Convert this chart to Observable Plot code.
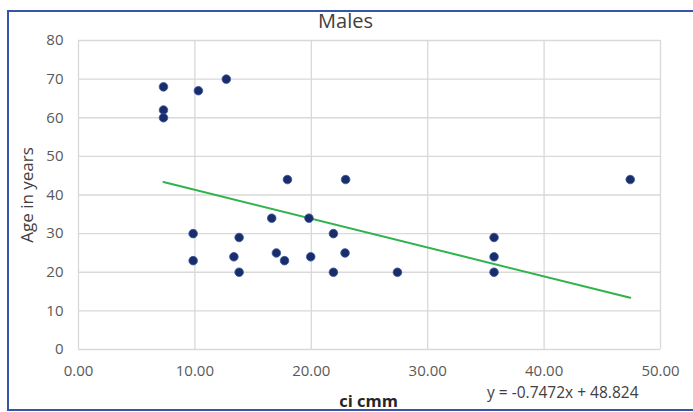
<!DOCTYPE html>
<html>
<head>
<meta charset="utf-8">
<script src="https://cdn.jsdelivr.net/npm/d3@7"></script>
<script src="https://cdn.jsdelivr.net/npm/@observablehq/plot@0.6"></script>
<style>
  html, body { margin: 0; padding: 0; background: #fff; }
  #wrap { position: relative; width: 693px; height: 412px; overflow: hidden; font-family: "Open Sans", Calibri, "Liberation Sans", sans-serif; }
  #frame { position: absolute; left: 7px; top: 10px; width: 700px; height: 401px; border: 2px solid #3556a8; box-sizing: border-box; }
  #wrap svg { position: absolute; left: 0; top: 0; }
</style>
</head>
<body>
<div id="wrap"><div id="frame"></div></div>
<script>
// Data
const ciCmm = [7.3, 7.3, 7.3, 10.3, 12.7, 9.85, 9.85, 13.35, 13.8, 13.8, 16.6, 17.0, 17.7, 17.95, 19.8, 19.95, 21.9, 21.9, 22.9, 22.95, 27.4, 35.7, 35.7, 35.7, 47.4];
const ageYears = [68, 62, 60, 67, 70, 30, 23, 24, 29, 20, 34, 25, 23, 44, 34, 24, 30, 20, 25, 44, 20, 29, 24, 20, 44];
const trendSlope = -0.7472;
const trendIntercept = 48.824;
const xTicks = [0, 10, 20, 30, 40, 50];
const yTicks = [0, 10, 20, 30, 40, 50, 60, 70, 80];
const titleText = "Males";
const xLabel = "ci cmm";
const yLabel = "Age in years";
const equationText = "y = -0.7472x + 48.824";

const points = ciCmm.map((x, i) => ({x, y: ageYears[i]}));
const xMin = d3.min(ciCmm), xMax = d3.max(ciCmm);
const trend = [xMin, xMax].map(x => ({x, y: trendSlope * x + trendIntercept}));

const W = 693, H = 412;
const chart = Plot.plot({
  width: W,
  height: H,
  marginLeft: 78,
  marginRight: 33,
  marginTop: 40,
  marginBottom: 63,
  style: {fontFamily: '"Open Sans", Calibri, "Liberation Sans", sans-serif', background: "transparent", overflow: "visible"},
  x: {domain: [0, 50], ticks: xTicks, tickFormat: d => d.toFixed(2), label: null},
  y: {domain: [0, 80], ticks: yTicks, label: null},
  marks: [
    Plot.gridX(xTicks, {stroke: "#d9d9d9", strokeOpacity: 1, strokeWidth: 1.3}),
    Plot.gridY(yTicks, {stroke: "#d9d9d9", strokeOpacity: 1, strokeWidth: 1.3}),
    Plot.axisX({ticks: xTicks, tickSize: 0, tickPadding: 16, tickFormat: d => d.toFixed(2), fontSize: 15, fill: "#595959", label: null}),
    Plot.axisY({ticks: yTicks, tickSize: 0, tickPadding: 15, fontSize: 15, fill: "#595959", label: null}),
    Plot.line(trend, {x: "x", y: "y", stroke: "#2fb34a", strokeWidth: 2}),
    Plot.dot(points, {x: "x", y: "y", r: 4.3, fill: "#1a2d6b", stroke: "#3a55a0", strokeWidth: 0.8}),
    Plot.text([titleText], {frameAnchor: "top", dx: -24, dy: -19, lineAnchor: "middle", textAnchor: "middle", fontSize: 20, fill: "#404040"}),
    Plot.text([xLabel], {frameAnchor: "bottom", dx: -1, dy: 52, lineAnchor: "middle", textAnchor: "middle", fontSize: 16.5, fontWeight: "bold", fill: "#262626"}),
    Plot.text([yLabel], {frameAnchor: "left", dx: -51, dy: 0, lineAnchor: "middle", textAnchor: "middle", rotate: -90, fontSize: 17, fill: "#404040"}),
    Plot.text([equationText], {frameAnchor: "bottom-right", dx: -22, dy: 44, lineAnchor: "middle", textAnchor: "end", fontSize: 15.5, fill: "#404040"})
  ]
});
document.getElementById("wrap").appendChild(chart);
</script>
</body>
</html>
